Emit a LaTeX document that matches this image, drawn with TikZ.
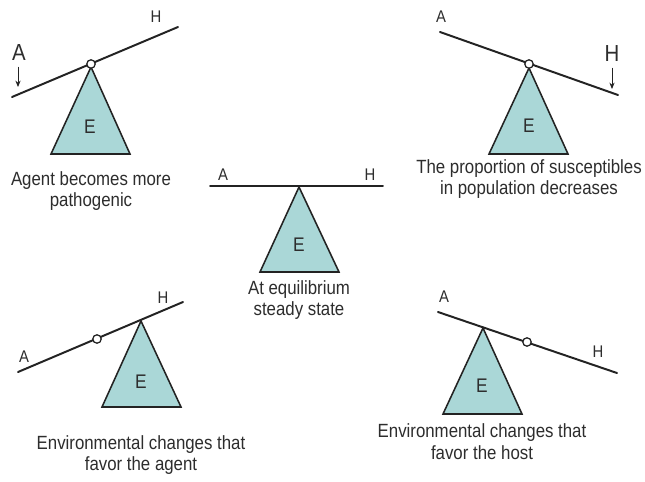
\documentclass[tikz,border=0pt]{standalone}
\usepackage{fontspec}
\setmainfont[FakeStretch=0.88]{Liberation Sans}
\usepackage{xcolor}
\definecolor{fulcrumfill}{RGB}{170,215,215}
\definecolor{inkline}{RGB}{35,35,35}
\definecolor{inktext}{RGB}{45,45,45}
\usetikzlibrary{arrows.meta, positioning}
\tikzset{
  beam/.style={draw=inkline, line width=1.4pt, line cap=round},
  fulcrum/.style={draw=inkline, fill=fulcrumfill, line width=1.1pt, line join=miter},
  pivot/.style={circle, draw=inkline, fill=white, line width=0.9pt,
    minimum size=6pt, inner sep=0pt},
  lbl/.style={font=\fontsize{12}{14}\selectfont, text=inktext, inner sep=1pt},
  biglbl/.style={font=\fontsize{16.5}{18}\selectfont, text=inktext, inner sep=1pt},
  elbl/.style={font=\fontsize{14}{16}\selectfont, text=inktext, inner sep=1pt},
  caption/.style={font=\fontsize{13.6}{15.5}\selectfont, text=inktext,
    align=center, inner sep=0pt},
  arr/.style={-{Stealth[length=1.6mm, width=1.3mm]}, draw=inkline, line width=0.6pt},
}
\begin{document}
\begin{tikzpicture}[x=0.025cm, y=-0.025cm]
  \useasboundingbox[fill=white] (0,0) rectangle (645,481);

  % agent becomes more pathogenic
  \coordinate (b1l) at (12,97);  \coordinate (b1r) at (178,27);
  \draw[fulcrum] (91,67) -- (130,154) -- (51,154) -- cycle;
  \draw[beam] (b1l) -- (b1r);
  \node[pivot] (p1) at (91,64) {};
  \node[elbl] (e1) at (90,127) {E};
  \node[biglbl] (a1) at (19,53) {A};
  \node[lbl] (h1) at (156,17) {H};
  \coordinate (t1) at (18,87);
  \draw[arr] (a1.south -| t1) ++(0,4) -- (t1);
  \node[caption] (cap1) at (91,191) {Agent becomes more\\pathogenic};

  % susceptibles decrease
  \coordinate (b2l) at (440,32);  \coordinate (b2r) at (618,95);
  \draw[fulcrum] (529,68) -- (568,154) -- (489,154) -- cycle;
  \draw[beam] (b2l) -- (b2r);
  \node[pivot] (p2) at (529,64) {};
  \node[elbl] (e2) at (529,126) {E};
  \node[lbl] (a2) at (441,17) {A};
  \node[biglbl] (h2) at (612,54) {H};
  \coordinate (t2) at (612,89);
  \draw[arr] (h2.south -| t2) ++(0,4) -- (t2);
  \node[caption] (cap2) at (529,179) {The proportion of susceptibles\\in population decreases};

  % equilibrium
  \coordinate (b3l) at (210,186);  \coordinate (b3r) at (383,186);
  \draw[fulcrum] (299,187) -- (339,272) -- (260,272) -- cycle;
  \draw[beam] (b3l) -- (b3r);
  \node[elbl] (e3) at (299,245) {E};
  \node[lbl] (a3) at (223,175) {A};
  \node[lbl] (h3) at (370,175) {H};
  \node[caption] (cap3) at (299,300) {At equilibrium\\steady state};

  % environment favours the agent
  \coordinate (b4l) at (18,372);  \coordinate (b4r) at (183,302);
  \draw[fulcrum] (141,321) -- (181,407) -- (102,407) -- cycle;
  \draw[beam] (b4l) -- (b4r);
  \node[pivot] (p4) at (97,339) {};
  \node[elbl] (e4) at (141,382) {E};
  \node[lbl] (a4) at (24,357) {A};
  \node[lbl] (h4) at (163,298) {H};
  \node[caption] (cap4) at (141,455) {Environmental changes that\\favor the agent};

  % environment favours the host
  \coordinate (b5l) at (438,312);  \coordinate (b5r) at (617,373);
  \draw[fulcrum] (483,328) -- (522,414) -- (443,414) -- cycle;
  \draw[beam] (b5l) -- (b5r);
  \node[pivot] (p5) at (527,342) {};
  \node[elbl] (e5) at (482,386) {E};
  \node[lbl] (a5) at (444,297) {A};
  \node[lbl] (h5) at (598,352) {H};
  \node[caption] (cap5) at (482,442) {Environmental changes that\\favor the host};
\end{tikzpicture}
\end{document}
